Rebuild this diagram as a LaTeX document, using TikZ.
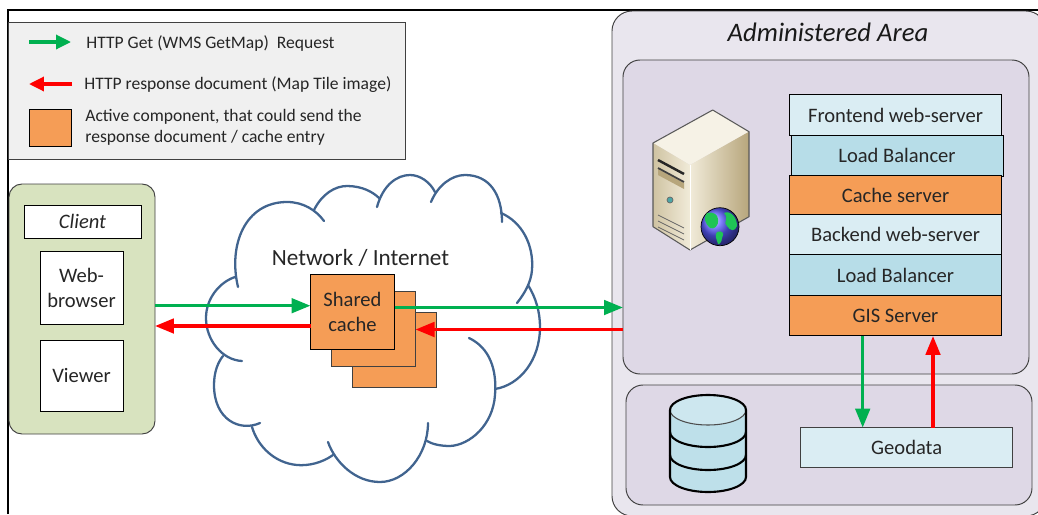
\documentclass[tikz,border=0pt]{standalone}
\usepackage{fontspec}
\setmainfont{Carlito}
\usetikzlibrary{arrows.meta}
\definecolor{cellpale}{HTML}{DAEDF3}
\definecolor{cellblue}{HTML}{B7DDE8}
\definecolor{cellorange}{HTML}{F59D56}
\definecolor{areapale}{HTML}{E9E6EE}
\definecolor{areadark}{HTML}{DED8E6}
\definecolor{clientgreen}{HTML}{D8E3BF}
\definecolor{cloudblue}{HTML}{41648F}
\definecolor{reqgreen}{HTML}{00B050}
\definecolor{edgegrey}{HTML}{404040}
\definecolor{inkgrey}{HTML}{262626}
\definecolor{servertop}{HTML}{F6F2E6}
\definecolor{servercream}{HTML}{F1EBD9}
\definecolor{servertan}{HTML}{B7A67C}
\definecolor{serverside}{HTML}{CFC3A2}
\definecolor{globegreen}{HTML}{1FC456}
\tikzset{
	pxsize/.style 2 args={minimum width=0.02cm*#1,minimum height=0.02cm*#2},
	plainbox/.style={draw=black,line width=0.55pt,inner sep=0pt,outer sep=0pt,align=center,text=inkgrey,font=\fontsize{11.7}{14.2}\selectfont},
	stackcell/.style={plainbox,pxsize={212}{40}},
	areabox/.style={plainbox,draw=edgegrey,fill=areadark,rounded corners=0.34cm},
	reqarrow/.style={draw=reqgreen,line width=1.9pt,-{Triangle[length=0.38cm,width=0.29cm]}},
	resparrow/.style={draw=red,line width=1.9pt,-{Triangle[length=0.38cm,width=0.29cm]}},
	legendtext/.style={anchor=west,inner sep=0pt,align=left,text=inkgrey,font=\fontsize{10}{12}\selectfont},
	cloudline/.style={draw=cloudblue,line width=1.3pt,line cap=round}
}
\begin{document}
\begin{tikzpicture}[x=0.02cm,y=-0.02cm]
	\clip (0,0) rectangle (1038,514);
	\draw[line width=1.2pt] (8,514) -- (8,10) -- (1038,10);

	% legend
	\node[plainbox,draw=edgegrey,fill=black!6,pxsize={397}{137}] (legend) at (207,90.5) {};
	\coordinate (reqa) at (29,42);
	\coordinate (reqb) at (71,42);
	\coordinate (respa) at (72,84);
	\coordinate (respb) at (29,84);
	\draw[reqarrow,-{Triangle[length=0.3cm,width=0.28cm]}] (reqa) -- (reqb);
	\draw[resparrow,-{Triangle[length=0.3cm,width=0.28cm]}] (respa) -- (respb);
	\node[plainbox,fill=cellorange,pxsize={42}{37}] (legendbox) at (50,127.5) {};
	\node[legendtext] (legendreq) at (86,43) {HTTP Get (WMS GetMap)\ \ Request};
	\node[legendtext] (legendresp) at (84,85) {HTTP response document (Map Tile image)};
	\node[legendtext] (legendactive) at (85,127) {Active component, that could send the\\response document / cache entry};

	% client
	\node[plainbox,draw=edgegrey,fill=clientgreen,rounded corners=0.26cm,pxsize={146}{250}] (client) at (82,309) {};
	\node[plainbox,fill=white,pxsize={117}{33}] (clientlabel) at (82.5,221.5) {\itshape Client};
	\node[plainbox,fill=white,pxsize={83}{73}] (browser) at (81.5,287.5) {Web-\\browser};
	\node[plainbox,fill=white,pxsize={83}{71}] (viewer) at (81.5,375.5) {Viewer};

	% cloud
	\draw[cloudline] (238,287) .. controls (228,245) and (245,202) .. (287,202) .. controls (303,202) and (316,210) .. (324,221);
	\draw[cloudline] (314,210) .. controls (322,194) and (335,186) .. (347,186) .. controls (362,186) and (373,192) .. (379,198);
	\draw[cloudline] (377,207) .. controls (383,185) and (397,175) .. (410,175) .. controls (420,175) and (430,182) .. (435,192);
	\draw[cloudline] (431,202) .. controls (438,185) and (452,175) .. (465,175) .. controls (490,175) and (502,195) .. (502,222);
	\draw[cloudline] (501,213) .. controls (522,222) and (534,245) .. (532,270) .. controls (531,282) and (525,293) .. (517,303);
	\draw[cloudline] (528,285) .. controls (536,298) and (540,312) .. (540,327) .. controls (540,360) and (520,385) .. (495,389);
	\draw[cloudline] (469,338) .. controls (490,348) and (497,370) .. (495,395) .. controls (493,425) and (470,445) .. (450,446) .. controls (440,446) and (432,444) .. (427,441);
	\draw[cloudline] (428,423) .. controls (428,455) and (405,482) .. (380,482) .. controls (355,482) and (335,462) .. (328,442);
	\draw[cloudline] (333,455) .. controls (322,463) and (308,466) .. (297,465) .. controls (275,463) and (258,447) .. (252,427);
	\draw[cloudline] (260,423) .. controls (240,432) and (214,420) .. (214,385) .. controls (214,372) and (218,362) .. (223,356);
	\draw[cloudline] (242,361) .. controls (222,360) and (206,340) .. (206,318) .. controls (206,298) and (220,282) .. (235,277);
	\node[inner sep=0pt,text=inkgrey,font=\fontsize{13.2}{15}\selectfont] (network) at (360.5,258) {Network / Internet};

	% shared cache
	\node[plainbox,draw=edgegrey,fill=cellorange,pxsize={84}{75}] (cachec) at (394.5,349.5) {};
	\node[plainbox,draw=edgegrey,fill=cellorange,pxsize={84}{75}] (cacheb) at (373.5,329) {};
	\node[plainbox,fill=cellorange,pxsize={84}{75}] (cachea) at (352.5,312) {Shared\\cache};

	% administered area
	\node[plainbox,draw=edgegrey,fill=areapale,rounded corners=0.4cm,pxsize={434}{505}] (admin) at (829,263.5) {};
	\node[inner sep=0pt,text=black!90,font=\fontsize{15.2}{18}\selectfont\itshape] (admintitle) at (828,32) {Administered Area};
	\node[areabox,pxsize={406}{314}] (hostarea) at (826,217) {};
	\node[areabox,pxsize={406}{120}] (dataarea) at (829,445) {};

	\node[stackcell,fill=cellpale,pxsize={212}{40.5}] (frontend) at (895.5,115) {Frontend web-server};
	\node[stackcell,fill=cellblue,pxsize={212}{41}] (balancera) at (897,155.5) {Load Balancer};
	\node[stackcell,fill=cellorange,pxsize={212}{38.5}] (cacheserver) at (895.5,195.2) {Cache server};
	\node[stackcell,fill=cellpale,pxsize={212}{40}] (backend) at (895.5,234.7) {Backend web-server};
	\node[stackcell,fill=cellblue,pxsize={212}{41}] (balancerb) at (895.5,275) {Load Balancer};
	\node[stackcell,fill=cellorange,pxsize={212}{40.5}] (gisserver) at (895.5,315.7) {GIS Server};
	\node[stackcell,draw=edgegrey,fill=cellpale,pxsize={212}{40}] (geodata) at (906.7,447.6) {Geodata};

	% server
	\fill[servertop] (653,143) -- (712.7,110) -- (749,131.7) -- (690,165) -- cycle;
	\shade[left color=servercream,right color=servertan] (690,165) -- (749,131.7) -- (749,216.7) -- (690,250) -- cycle;
	\shade[left color=serverside,right color=servercream] (653,143) -- (690,165) -- (690,250) -- (653,226.7) -- cycle;
	\draw[black!65,line width=0.6pt,line join=round] (653,143) -- (712.7,110) -- (749,131.7) -- (749,216.7) -- (690,250) -- (653,226.7) -- cycle;
	\draw[white,line width=0.4pt] (690,165) -- (690,250);
	\draw[black!85,line width=1.4pt] (658,160) -- (684,174);
	\fill[servertan] (658,169) -- (684,183) -- (684,189) -- (658,175) -- cycle;
	\draw[black!75,line width=1pt] (658,168) -- (684,182);
	\fill[teal!70!white,draw=black!60,line width=0.4pt] (670,200) circle (3);
	\foreach \y in {215,221,227} {
		\draw[black!60,line width=0.5pt] (658,\y) -- (684,\y+13);}
	\shade[ball color=blue!65!white,draw=black] (720,226.7) circle (19);
	\fill[globegreen] (707,213) .. controls (713,211) and (718,215) .. (718,219) .. controls (719,226) and (714,230) .. (710,228) .. controls (705,224) and (703,217) .. (707,213) -- cycle;
	\fill[globegreen] (724,213) .. controls (730,210) and (737,217) .. (737,226) .. controls (735,232) and (730,231) .. (727,226) .. controls (722,222) and (730,220) .. (724,213) -- cycle;
	\fill[globegreen] (717,232) .. controls (722,230) and (725,233) .. (722,238) .. controls (722,242) and (719,245) .. (718,244) .. controls (717,240) and (714,235) .. (717,232) -- cycle;

	% database
	\fill[cellblue!90!white] (670,410) -- (670,477) arc (180:0:38 and 15) -- (746,410) arc (360:180:38 and 15) -- cycle;
	\fill[cellblue!70!white] (708,410) ellipse (38 and 15);
	\draw[black!70,line width=0.6pt] (670,410) arc (180:0:38 and 15);
	\draw[line width=1.2pt] (670,410) arc (180:360:38 and 15);
	\draw[line width=1.2pt] (670,410) -- (670,477) arc (180:0:38 and 15) -- (746,410);
	\foreach \y in {432,455} {
		\draw[line width=1.2pt] (670,\y) arc (180:0:38 and 15);}

	% connectors
	\coordinate (clientreq) at (0,305.7);
	\coordinate (clientresp) at (0,326);
	\coordinate (hostreq) at (0,307.5);
	\coordinate (hostresp) at (0,329.5);
	\coordinate (gisreq) at (862.7,0);
	\coordinate (gisresp) at (933,0);
	\draw[reqarrow] (client.east |- clientreq) -- (cachea.west |- clientreq);
	\draw[resparrow] (cachea.west |- clientresp) -- (client.east |- clientresp);
	\draw[reqarrow] (cachea.east |- hostreq) -- (hostarea.west |- hostreq);
	\draw[resparrow] (hostarea.west |- hostresp) -- (cacheb.east |- hostresp);
	\draw[reqarrow] (gisserver.south -| gisreq) -- (geodata.north -| gisreq);
	\draw[resparrow] (geodata.north -| gisresp) -- (gisserver.south -| gisresp);
\end{tikzpicture}
\end{document}
